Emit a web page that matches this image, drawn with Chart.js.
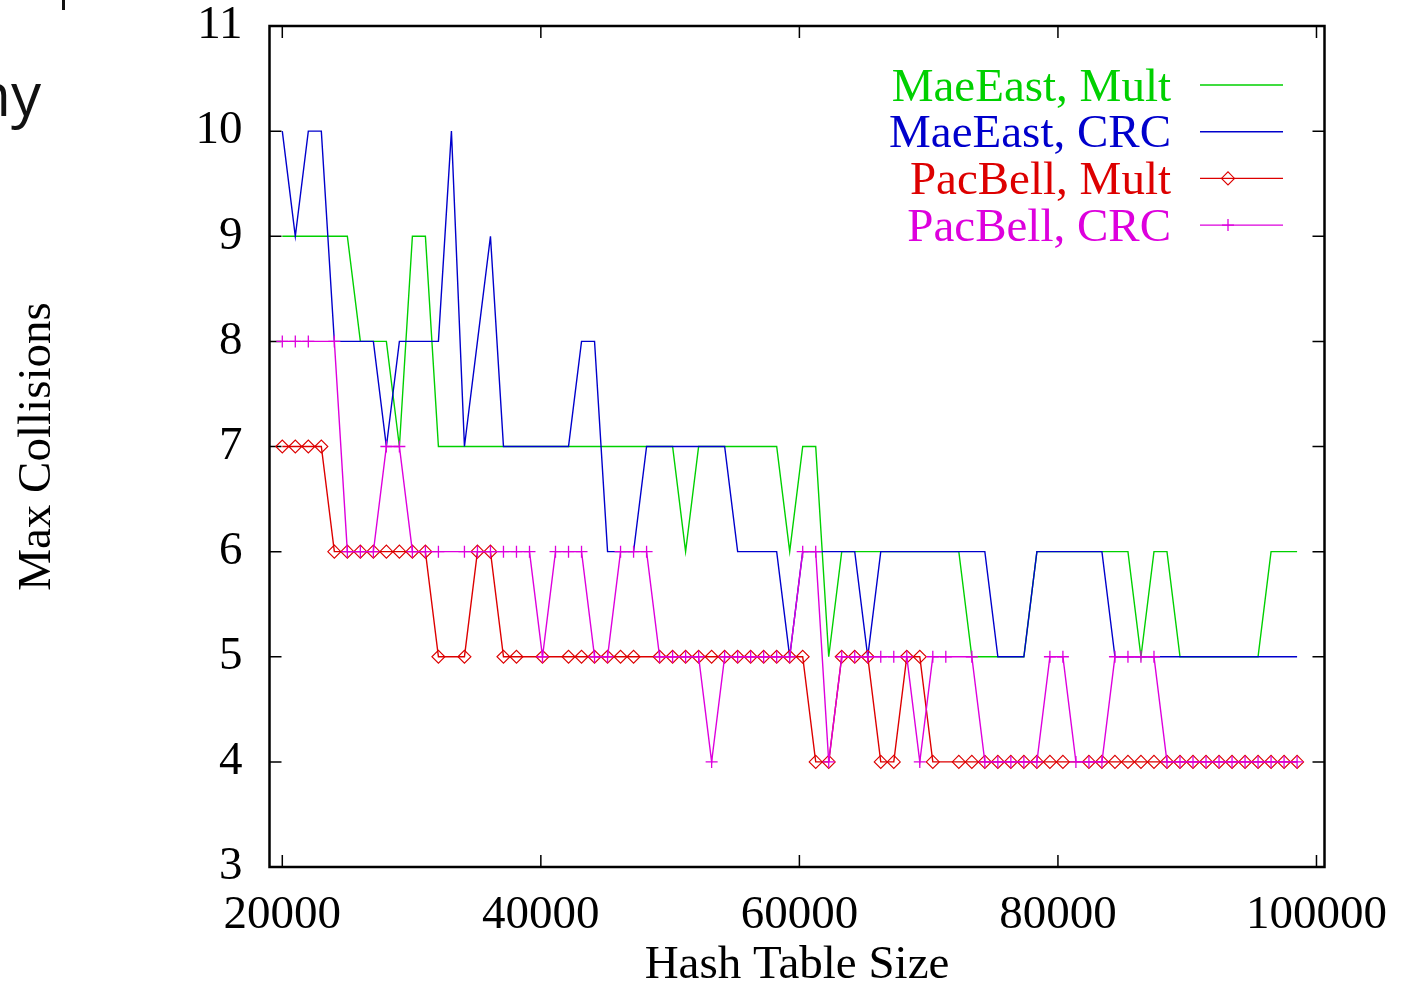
<!DOCTYPE html>
<html>
<head>
<meta charset="utf-8">
<script src="https://cdn.jsdelivr.net/npm/chart.js@4.4.0/dist/chart.umd.min.js"></script>
<style>
  html, body { margin: 0; padding: 0; background: #fff; overflow: hidden; }
  #wrap { position: relative; width: 1405px; height: 982px; }
  #slide { position: absolute; right: 1364px; top: 63px; font: 60px 'Open Sans', sans-serif; color: #111; white-space: nowrap; line-height: 1; }
  #mark { position: absolute; left: 62px; top: 0; width: 3px; height: 10px; background: #111; }
  canvas { position: absolute; left: 0; top: 0; }
</style>
</head>
<body>
<div id="wrap">
  <canvas id="collisionsChart" width="1405" height="982"></canvas>
  <div id="slide">any</div>
  <div id="mark"></div>
</div>
<script>
// hash table sizes (x values)
const tableSizes = [
    20000, 21006, 22013, 23019, 24026, 25032, 26038, 27045, 28051, 29058,
    30064, 31070, 32077, 33083, 34090, 35096, 36102, 37109, 38115, 39122,
    40128, 41134, 42141, 43147, 44154, 45160, 46166, 47173, 48179, 49186,
    50192, 51198, 52205, 53211, 54218, 55224, 56230, 57237, 58243, 59250,
    60256, 61262, 62269, 63275, 64282, 65288, 66294, 67301, 68307, 69314,
    70320, 71326, 72333, 73339, 74346, 75352, 76358, 77365, 78371, 79378,
    80384, 81390, 82397, 83403, 84410, 85416, 86422, 87429, 88435, 89442,
    90448, 91454, 92461, 93467, 94474, 95480, 96486, 97493, 98499
];

const maeEastMult = [
    9, 9, 9, 9, 9, 9, 8, 8, 8, 7,
    9, 9, 7, 7, 7, 7, 7, 7, 7, 7,
    7, 7, 7, 7, 7, 7, 7, 7, 7, 7,
    7, 6, 7, 7, 7, 7, 7, 7, 7, 6,
    7, 7, 5, 6, 6, 6, 6, 6, 6, 6,
    6, 6, 6, 5, 5, 5, 5, 5, 6, 6,
    6, 6, 6, 6, 6, 6, 5, 6, 6, 5,
    5, 5, 5, 5, 5, 5, 6, 6, 6
];

const maeEastCrc = [
    10, 9, 10, 10, 8, 8, 8, 8, 7, 8,
    8, 8, 8, 10, 7, 8, 9, 7, 7, 7,
    7, 7, 7, 8, 8, 6, 6, 6, 7, 7,
    7, 7, 7, 7, 7, 6, 6, 6, 6, 5,
    6, 6, 6, 6, 6, 5, 6, 6, 6, 6,
    6, 6, 6, 6, 6, 5, 5, 5, 6, 6,
    6, 6, 6, 6, 5, 5, 5, 5, 5, 5,
    5, 5, 5, 5, 5, 5, 5, 5, 5
];

// null = no sample at that size (line passes straight over)
const pacBellMult = [
    7, 7, 7, 7, 6, 6, 6, 6, 6, 6,
    6, 6, 5, null, 5, 6, 6, 5, 5, null,
    5, null, 5, 5, 5, 5, 5, 5, null, 5,
    5, 5, 5, 5, 5, 5, 5, 5, 5, 5,
    5, 4, 4, 5, 5, 5, 4, 4, 5, 5,
    4, null, 4, 4, 4, 4, 4, 4, 4, 4,
    4, null, 4, 4, 4, 4, 4, 4, 4, 4,
    4, 4, 4, 4, 4, 4, 4, 4, 4
];

const pacBellCrc = [
    8, 8, 8, null, 8, 6, 6, 6, 7, 7,
    6, 6, 6, null, 6, 6, 6, 6, 6, 6,
    5, 6, 6, 6, 5, 5, 6, 6, 6, 5,
    5, 5, 5, 4, 5, 5, 5, 5, 5, 5,
    6, 6, 4, 5, 5, 5, 5, 5, 5, 4,
    5, 5, null, 5, 4, 4, 4, 4, 4, 5,
    5, 4, 4, 4, 5, 5, 5, 5, 4, 4,
    4, 4, 4, 4, 4, 4, 4, 4, 4
];

const xTicks = [20000, 40000, 60000, 80000, 100000];
const seriesLabels = ['MaeEast, Mult', 'MaeEast, CRC', 'PacBell, Mult', 'PacBell, CRC'];

const GREEN = '#00d000';
const BLUE = '#0000cc';
const RED = '#dd0000';
const MAGENTA = '#dd00dd';
const SERIF = "'Liberation Serif', 'Times New Roman', serif";

function toPoints(values) {
    return tableSizes.map((size, i) => ({ x: size, y: values[i] }));
}

// keep the plot box where gnuplot put it, labels may hang over the edges
function noScalePadding(scale) {
    scale.paddingTop = 0;
    scale.paddingBottom = 0;
    scale.paddingLeft = 0;
    scale.paddingRight = 0;
}

// gnuplot style border with inward ticks on all four sides
const framePlugin = {
    id: 'frame',
    beforeDatasetsDraw(chart) {
        const { ctx, chartArea: a, scales: { x, y } } = chart;
        ctx.save();
        ctx.strokeStyle = '#000';
        ctx.lineWidth = 1.5;
        ctx.beginPath();
        x.ticks.forEach(t => {
            const px = x.getPixelForValue(t.value);
            ctx.moveTo(px, a.bottom); ctx.lineTo(px, a.bottom - 12);
            ctx.moveTo(px, a.top); ctx.lineTo(px, a.top + 12);
        });
        y.ticks.forEach(t => {
            const py = y.getPixelForValue(t.value);
            ctx.moveTo(a.left, py); ctx.lineTo(a.left + 12, py);
            ctx.moveTo(a.right, py); ctx.lineTo(a.right - 12, py);
        });
        ctx.stroke();
        ctx.lineWidth = 2.5;
        ctx.strokeRect(a.left, a.top, a.right - a.left, a.bottom - a.top);
        ctx.restore();
    }
};

// key in the top right corner, text right-aligned, sample line on the right
const keyPlugin = {
    id: 'key',
    afterDraw(chart) {
        const ctx = chart.ctx;
        const textRight = 1171, lineLeft = 1200, lineRight = 1283, markX = 1228;
        ctx.save();
        ctx.font = '47px ' + SERIF;
        ctx.textAlign = 'right';
        ctx.textBaseline = 'alphabetic';
        chart.data.datasets.forEach((ds, i) => {
            const ly = 85 + i * 46.7;
            ctx.fillStyle = ds.borderColor;
            ctx.fillText(ds.label, textRight, ly + 15.5);
            ctx.strokeStyle = ds.borderColor;
            ctx.lineWidth = ds.borderWidth;
            ctx.beginPath();
            ctx.moveTo(lineLeft, ly);
            ctx.lineTo(lineRight, ly);
            ctx.stroke();
            if (ds.pointRadius > 0) {
                ctx.save();
                ctx.fillStyle = 'rgba(0,0,0,0)';
                ctx.lineWidth = ds.pointBorderWidth;
                Chart.helpers.drawPoint(ctx, {
                    pointStyle: ds.pointStyle,
                    radius: ds.pointRadius,
                    rotation: 0,
                    borderWidth: ds.pointBorderWidth
                }, markX, ly);
                ctx.restore();
            }
        });
        ctx.restore();
    }
};

const ctx = document.getElementById('collisionsChart').getContext('2d');
new Chart(ctx, {
    type: 'line',
    data: {
        datasets: [
            {
                label: seriesLabels[0],
                data: toPoints(maeEastMult),
                borderColor: GREEN,
                borderWidth: 1.4,
                pointRadius: 0,
                order: 4
            },
            {
                label: seriesLabels[1],
                data: toPoints(maeEastCrc),
                borderColor: BLUE,
                borderWidth: 1.4,
                pointRadius: 0,
                order: 3
            },
            {
                label: seriesLabels[2],
                data: toPoints(pacBellMult),
                borderColor: RED,
                borderWidth: 1.4,
                pointStyle: 'rectRot',
                pointRadius: 6.5,
                pointBorderWidth: 1.1,
                pointBorderColor: RED,
                pointBackgroundColor: 'rgba(0,0,0,0)',
                spanGaps: true,
                order: 2
            },
            {
                label: seriesLabels[3],
                data: toPoints(pacBellCrc),
                borderColor: MAGENTA,
                borderWidth: 1.4,
                pointStyle: 'cross',
                pointRadius: 6,
                pointBorderWidth: 1.3,
                pointBorderColor: MAGENTA,
                spanGaps: true,
                order: 1
            }
        ]
    },
    options: {
        responsive: false,
        animation: false,
        events: [],
        devicePixelRatio: 1,
        layout: { padding: { left: 0, top: 26, right: 80.5, bottom: 0 } },
        elements: { line: { tension: 0, fill: false } },
        plugins: {
            legend: { display: false },
            tooltip: { enabled: false }
        },
        scales: {
            x: {
                type: 'linear',
                min: 19010,
                max: 100620,
                afterBuildTicks: scale => { scale.ticks = xTicks.map(v => ({ value: v })); },
                afterFit: scale => { scale.height = 115; noScalePadding(scale); },
                grid: { display: false, drawTicks: false },
                border: { display: false },
                ticks: {
                    color: '#000',
                    font: { family: SERIF, size: 47, lineHeight: 1 },
                    padding: 25,
                    maxRotation: 0,
                    autoSkip: false,
                    callback: v => String(v)
                },
                title: {
                    display: true,
                    text: 'Hash Table Size',
                    color: '#000',
                    font: { family: SERIF, size: 47, lineHeight: 1 },
                    padding: { top: 0, bottom: -7 }
                }
            },
            y: {
                min: 3,
                max: 11,
                afterFit: scale => { scale.width = 269.5; noScalePadding(scale); },
                grid: { display: false, drawTicks: false },
                border: { display: false },
                ticks: {
                    stepSize: 1,
                    color: '#000',
                    font: { family: SERIF, size: 47, lineHeight: 1 },
                    padding: 27,
                    callback: v => String(v)
                },
                title: {
                    display: true,
                    text: 'Max Collisions',
                    color: '#000',
                    font: { family: SERIF, size: 47, lineHeight: 1 },
                    padding: { top: 14, bottom: 0 }
                }
            }
        }
    },
    plugins: [framePlugin, keyPlugin]
});
</script>
</body>
</html>
